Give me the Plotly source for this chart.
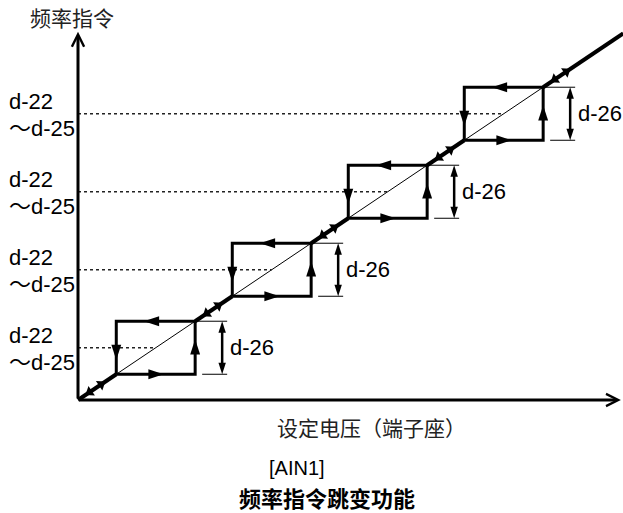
import math
import plotly.graph_objects as go

# ---------------- data ----------------
jump_centers = [0.67, 1.67, 2.67, 3.67]   # set voltage (= frequency level) at the centre of each jump
half_band = 0.34                            # half of the jump band (d-26)
line_end = 4.7                              # end of the characteristic line
x_axis_end = 4.68
y_axis_end = 4.72
level_label_upper = ["d-22", "d-22", "d-22", "d-22"]
level_label_lower = ["～d-25", "～d-25", "～d-25", "～d-25"]
band_labels = ["d-26", "d-26", "d-26", "d-26"]
y_title = "频率指令"
x_title = "设定电压（端子座）"
caption_1 = "[AIN1]"
caption_2 = "频率指令跳变功能"

# ---------------- layout constants ----------------
W, H = 623, 513
X0, Y0 = 78, 400      # pixel position of origin
SX, SY = 116, 78      # pixels per unit
x_range = [-X0 / SX, (W - X0) / SX]
y_range = [-(H - Y0) / SY, Y0 / SY]
px = 1.0 / SX         # one pixel in x data units
py = 1.0 / SY

LATIN = "Liberation Sans, Arial, sans-serif"
CJK = "Noto Sans CJK SC, sans-serif"

fig = go.Figure()

# thin characteristic line
fig.add_trace(go.Scatter(x=[0, line_end], y=[0, line_end], mode="lines",
                         line=dict(color="black", width=1), hoverinfo="skip"))

# thick segments along the line (outside the bands)
starts = [0] + [c + half_band for c in jump_centers]
ends = [c - half_band for c in jump_centers] + [line_end]
sx, sy = [], []
for a, b in zip(starts, ends):
    sx += [a, b, None]
    sy += [a, b, None]
fig.add_trace(go.Scatter(x=sx, y=sy, mode="lines",
                         line=dict(color="black", width=4), hoverinfo="skip"))

# hysteresis loops
lx, ly = [], []
for c in jump_centers:
    lo, hi = c - half_band, c + half_band
    lx += [lo, hi, hi, lo, lo, None]
    ly += [lo, lo, hi, hi, lo, None]
fig.add_trace(go.Scatter(x=lx, y=ly, mode="lines",
                         line=dict(color="black", width=3), hoverinfo="skip"))

# dotted level lines
dx, dy = [], []
for c in jump_centers:
    dx += [0, c, None]
    dy += [c, c, None]
fig.add_trace(go.Scatter(x=dx, y=dy, mode="lines",
                         line=dict(color="#222222", width=1.5, dash="dot"), hoverinfo="skip"))

# dimension extension lines and shafts
ex, ey = [], []
shx, shy = [], []
dim_tip_x, dim_tip_y, dim_tip_a = [], [], []
for c in jump_centers:
    lo, hi = c - half_band, c + half_band
    dim_x = hi + 27 * px
    ex += [hi, dim_x + 5 * px, None, hi + 7 * px, dim_x + 5 * px, None]
    ey += [hi, hi, None, lo, lo, None]
    shx += [dim_x, dim_x, None]
    shy += [lo + 6 * py, hi - 6 * py, None]
    dim_tip_x += [dim_x, dim_x]
    dim_tip_y += [hi, lo]
    dim_tip_a += [0, 180]
fig.add_trace(go.Scatter(x=ex, y=ey, mode="lines",
                         line=dict(color="black", width=1), hoverinfo="skip"))
fig.add_trace(go.Scatter(x=shx, y=shy, mode="lines",
                         line=dict(color="black", width=2.5), hoverinfo="skip"))
fig.add_trace(go.Scatter(x=dim_tip_x, y=dim_tip_y, mode="markers",
                         marker=dict(symbol="arrow", size=12, angle=dim_tip_a, color="black",
                                     line=dict(width=0)), hoverinfo="skip"))

# arrowheads on loop edges
ax_, ay_, aa_ = [], [], []
w = 2 * half_band
for c in jump_centers:
    lo, hi = c - half_band, c + half_band
    ax_ += [lo + 0.60 * w, hi, hi - 0.65 * w, lo]
    ay_ += [lo, lo + 0.66 * w, hi, hi - 0.73 * w]
    aa_ += [90, 0, 270, 180]
fig.add_trace(go.Scatter(x=ax_, y=ay_, mode="markers",
                         marker=dict(symbol="arrow", size=16, angle=aa_, color="black",
                                     line=dict(width=0)), hoverinfo="skip"))

# small arrowheads on the thick line segments (both directions)
ang = math.degrees(math.atan(SY / SX))
bx, by, ba = [], [], []
for a in starts:
    bx += [a + 0.20, a + 0.10]
    by += [a + 0.20, a + 0.10]
    ba += [90 - ang, 270 - ang]
fig.add_trace(go.Scatter(x=bx, y=by, mode="markers",
                         marker=dict(symbol="triangle-up", size=10, angle=ba, color="black",
                                     line=dict(width=0)), hoverinfo="skip"))

annotations = []
# axes with arrows
annotations.append(dict(x=x_axis_end, y=0, ax=0, ay=0, xref="x", yref="y", axref="x", ayref="y",
                        text="", showarrow=True, arrowhead=5, arrowwidth=3, arrowsize=0.8,
                        arrowcolor="black"))
annotations.append(dict(x=0, y=y_axis_end, ax=0, ay=0, xref="x", yref="y", axref="x", ayref="y",
                        text="", showarrow=True, arrowhead=5, arrowwidth=3, arrowsize=0.8,
                        arrowcolor="black"))

# level labels
for c, up, low in zip(jump_centers, level_label_upper, level_label_lower):
    annotations.append(dict(x=7 / W, xref="paper", y=c, yref="y", text=up, showarrow=False,
                            xanchor="left", yanchor="middle", yshift=12,
                            font=dict(family=LATIN, size=22, color="black")))
    annotations.append(dict(x=7 / W, xref="paper", y=c, yref="y", text=low, showarrow=False,
                            xanchor="left", yanchor="middle", yshift=-15,
                            font=dict(family=LATIN + ", " + CJK, size=22, color="black")))

# band labels
for c, lab in zip(jump_centers, band_labels):
    annotations.append(dict(x=c + half_band + 27 * px, xref="x", y=c, yref="y", text=lab,
                            showarrow=False, xanchor="left", yanchor="middle", xshift=6,
                            font=dict(family=LATIN, size=22, color="black")))

# titles
annotations.append(dict(x=28 / W, y=1 - 17 / H, xref="paper", yref="paper", text=y_title,
                        showarrow=False, xanchor="left", yanchor="middle",
                        font=dict(family=CJK, size=21, color="#222222")))
annotations.append(dict(x=275 / W, y=1 - 427 / H, xref="paper", yref="paper", text=x_title,
                        showarrow=False, xanchor="left", yanchor="middle",
                        font=dict(family=CJK, size=21, color="#222222")))
annotations.append(dict(x=267 / W, y=1 - 468 / H, xref="paper", yref="paper", text=caption_1,
                        showarrow=False, xanchor="left", yanchor="middle",
                        font=dict(family=LATIN, size=20, color="black")))
annotations.append(dict(x=237 / W, y=1 - 497 / H, xref="paper", yref="paper",
                        text="<b>" + caption_2 + "</b>",
                        showarrow=False, xanchor="left", yanchor="middle",
                        font=dict(family=CJK, size=22, color="black")))

fig.update_layout(
    width=W, height=H,
    margin=dict(l=0, r=0, t=0, b=0),
    paper_bgcolor="white", plot_bgcolor="white",
    showlegend=False,
    xaxis=dict(range=x_range, visible=False, fixedrange=True),
    yaxis=dict(range=y_range, visible=False, fixedrange=True),
    annotations=annotations,
)

fig.write_html("out.html", config={"displayModeBar": False},
               post_script="document.body.style.margin='0';document.body.style.overflow='hidden';")
